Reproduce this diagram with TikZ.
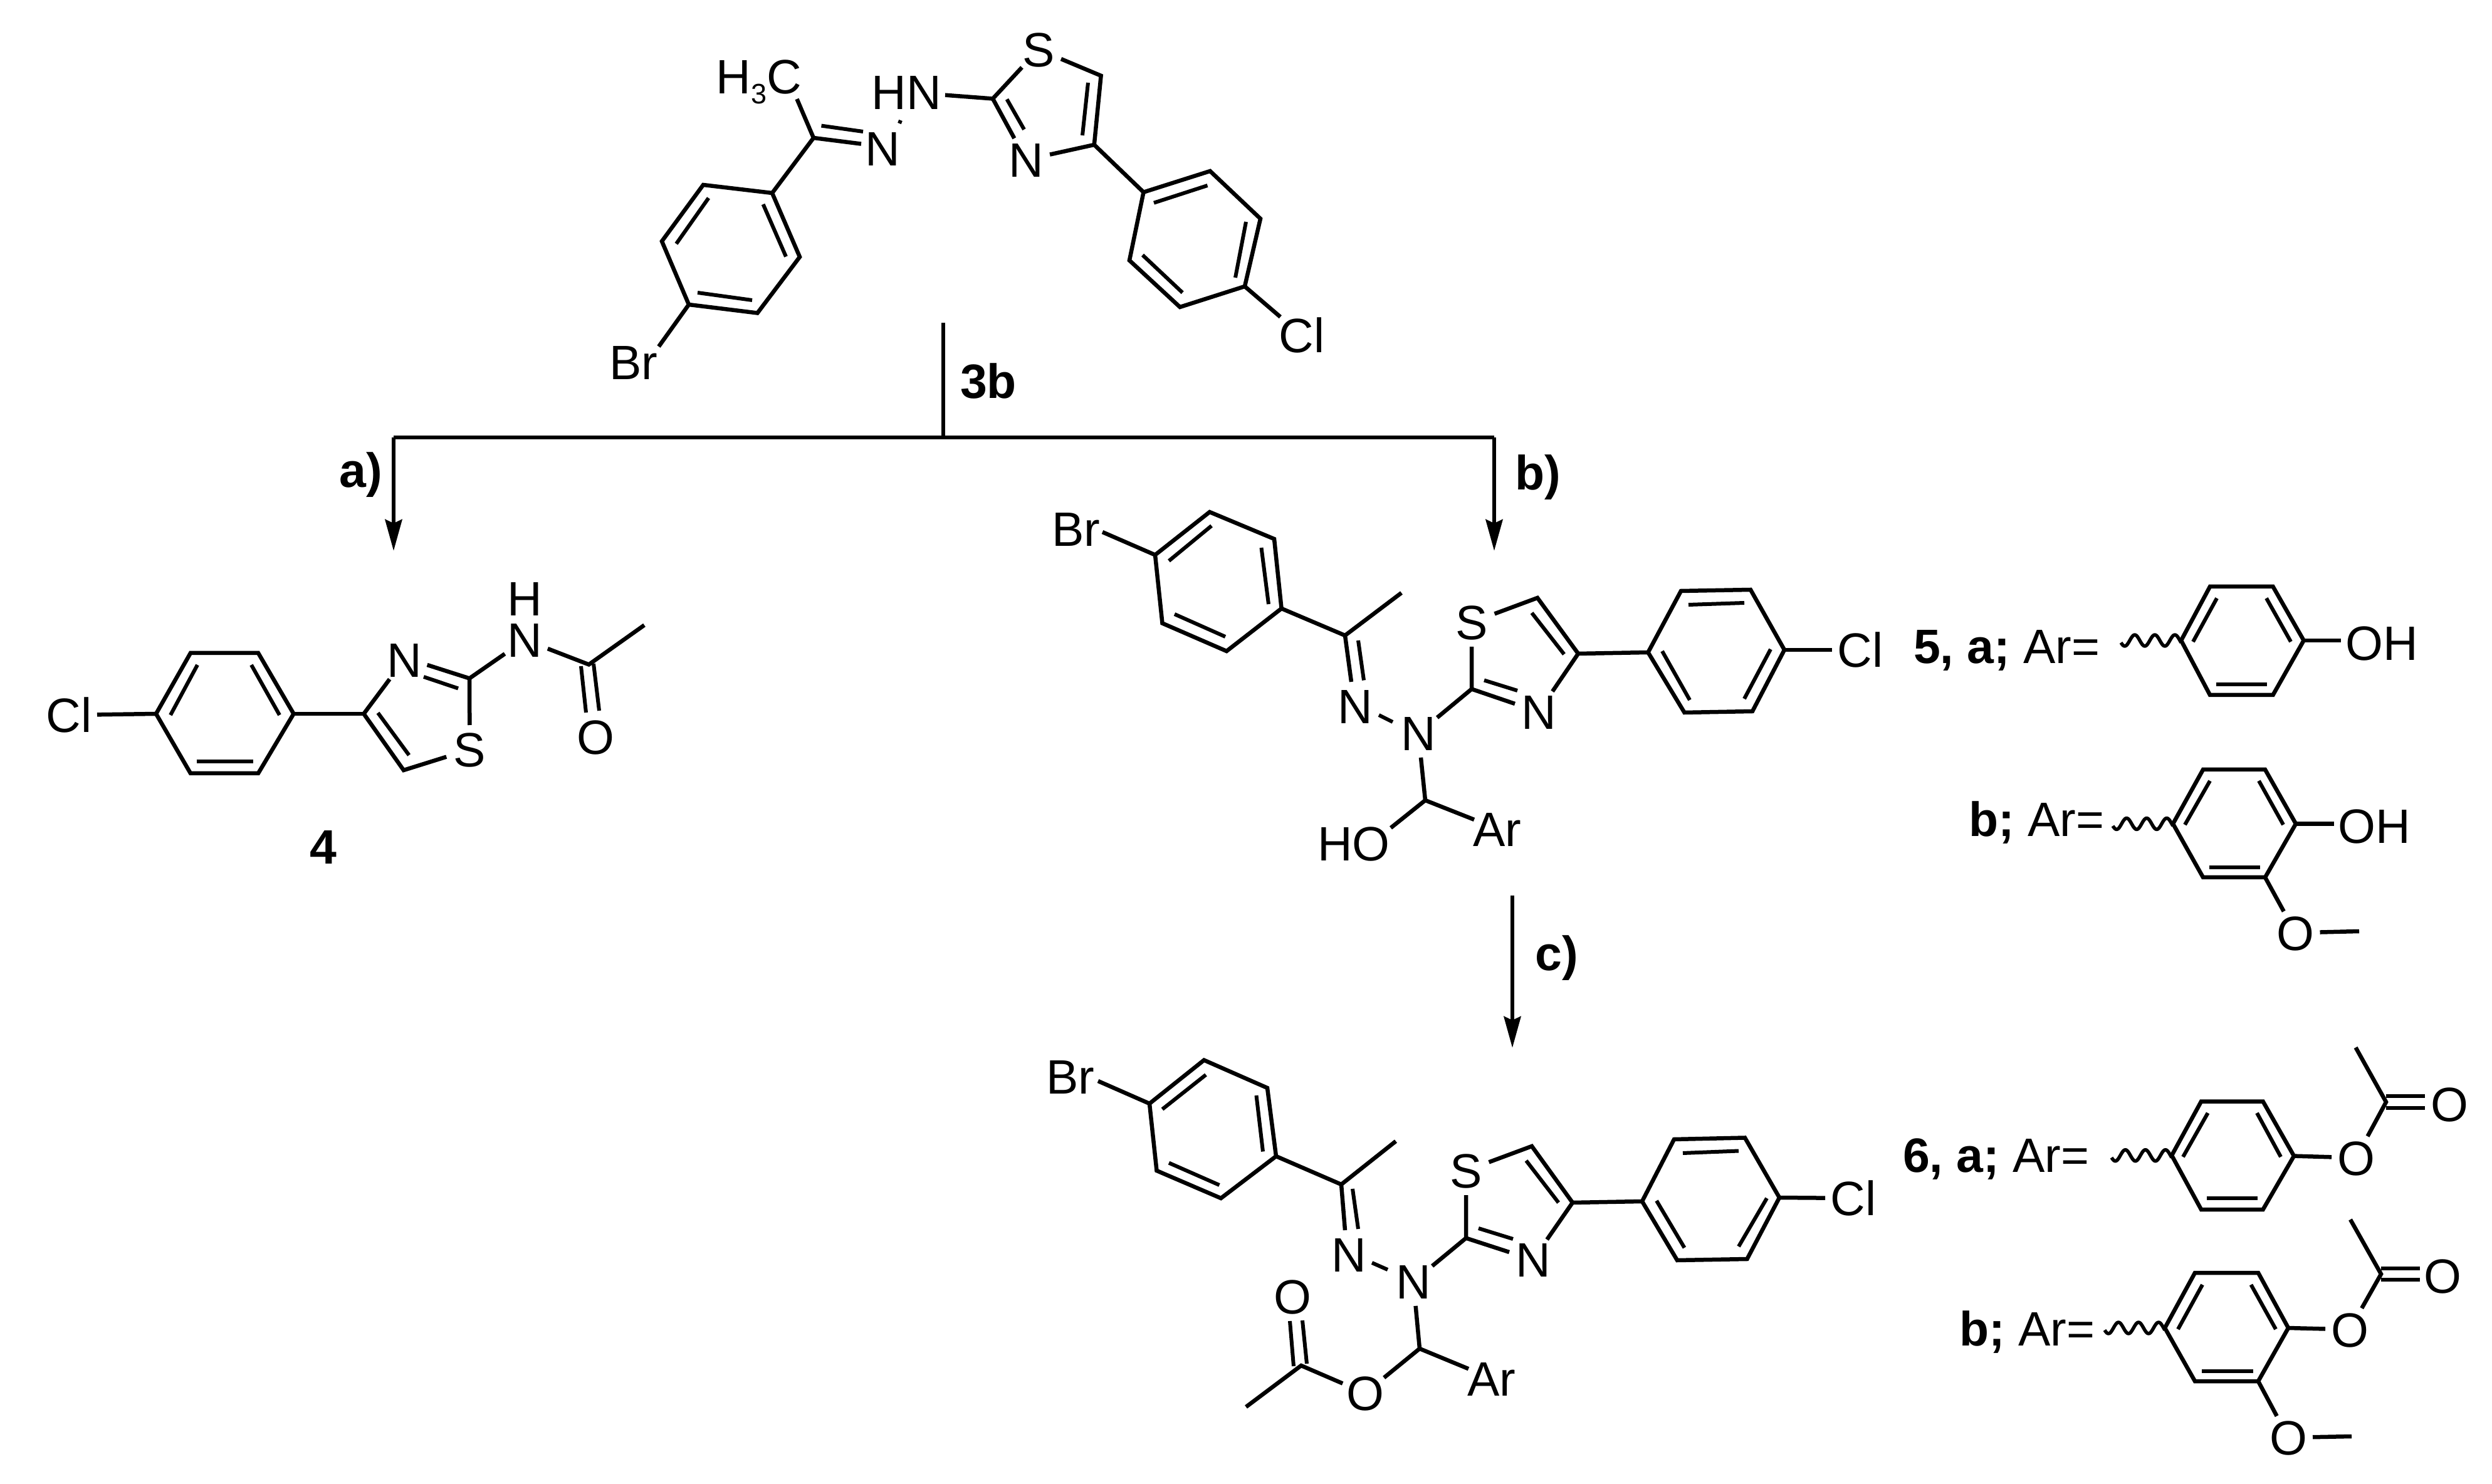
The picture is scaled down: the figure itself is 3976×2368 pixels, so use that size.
\documentclass[tikz,border=0pt]{standalone}
\usepackage{fontspec}
\setmainfont{Liberation Sans}
\usetikzlibrary{arrows.meta}
\newcommand\atlab[1]{\makebox[0pt][c]{\smash{\raisebox{-0.358em}{#1}}}}
\newcommand\wavy[2]{\draw[wavebond] plot[domain=0:96,samples=60,smooth] ({#1+\x},{#2+9*cos(11.25*(\x-6))});}
\tikzset{
  every node/.style={font=\fontsize{15.4}{18}\selectfont,text=black},
  bond/.style={line width=1.3pt,line join=miter,line cap=butt},
  inner/.style={line width=1.2pt,line cap=butt},
  wavebond/.style={line width=1.1pt,line join=round},
  rxn/.style={line width=1.2pt},
  arr/.style={line width=1.2pt,-{Stealth[length=10pt,width=5.4pt,inset=1.2pt]}},
  atom/.style={circle,inner sep=0pt,minimum size=15.2pt},
  atomL/.style={circle,inner sep=0pt,minimum size=17.6pt},
  grp/.style={rectangle,inner sep=0pt,minimum height=15pt},
  txt/.style={inner sep=0pt,anchor=base},
  txtw/.style={inner sep=0pt,anchor=base west},
}
\begin{document}
\begin{tikzpicture}[x=0.2pt,y=-0.2pt]
\useasboundingbox (0,0) rectangle (3976,2368);

% ---------- reaction lines
\coordinate (top) at (1505,515);
\coordinate (jn) at (1505,698);
\coordinate (la) at (628,698);
\coordinate (ra) at (2384,698);
\coordinate (ta) at (628,879);
\coordinate (tb) at (2384,879);
\coordinate (cs) at (2413,1429);
\coordinate (tc) at (2413,1672);
\draw[rxn] (top) -- (jn);
\draw[rxn] (la) -- (ra);
\draw[arr] (la) -- (ta);
\draw[arr] (ra) -- (tb);
\draw[arr] (cs) -- (tc);
\node[txt] (l3b) at (1577,636) {\textbf{3b}};
\node[txt] (lA) at (576,778) {\textbf{a)}};
\node[txt] (lB) at (2454,782) {\textbf{b)}};
\node[txt] (lC) at (2483.5,1549) {\textbf{c)}};
\node[txt] (l4) at (516,1379) {\textbf{4}};

% ---------- compound 3b
\node[grp,minimum width=27pt] (m1Me) at (1211,122) {\atlab{H\raisebox{-3.2pt}{\fontsize{9}{10}\selectfont 3}C}};
\node[atom] (m1N) at (1408,236.5) {\atlab{N}};
\node[grp,minimum width=24.4pt] (m1HN) at (1446,147) {\atlab{HN}};
\node[atom] (m1S) at (1657,79) {\atlab{S}};
\node[atom] (m1N3) at (1637,255) {\atlab{N}};
\node[atomL] (m1Cl) at (2077,535) {\atlab{Cl}};
\node[atomL] (m1Br) at (1011,578) {\atlab{Br}};
\draw[bond] (1232,308) coordinate (a1) -- (1122,295) coordinate (a2) -- (1056,385) coordinate (a3) -- (1099,486) coordinate (a4) -- (1208.5,499.5) coordinate (a5) -- (1276,410) coordinate (a6) -- cycle;
\draw[inner] (1217.6,326) -- (1254,409.5);
\draw[inner] (1130.5,316) -- (1079,389);
\draw[inner] (1113,467) -- (1200,479);
\coordinate (m1C) at (1298,220);
\draw[bond] (a1) -- (m1C);
\draw[bond] (m1C) -- (1271.5,158);
\draw[bond] (m1C) -- (1374,229.6);
\draw[inner] (1310.5,200.6) -- (1377,210);
\draw[inner] (1437,192) -- (1435,197);
\coordinate (m1C2) at (1584,157.5);
\coordinate (m1C5) at (1756.6,120.8);
\coordinate (m1C4) at (1745.8,231);
\draw[bond] (m1HN) -- (m1C2);
\draw[bond] (m1C2) -- (m1S);
\draw[bond] (m1S) -- (m1C5) -- (m1C4) -- (m1N3) -- (m1C2);
\draw[inner] (1606.5,158.4) -- (1634,206.6);
\draw[inner] (1736,132) -- (1727,216);
\draw[bond] (1824.5,306.7) coordinate (b1) -- (1930.7,273) coordinate (b2) -- (2011,349) coordinate (b3) -- (1986,457) coordinate (b4) -- (1882.6,490) coordinate (b5) -- (1802,415.5) coordinate (b6) -- cycle;
\draw[inner] (1841,323.7) -- (1926.5,296);
\draw[inner] (1988,354) -- (1971,443);
\draw[inner] (1886.7,467) -- (1823,407);
\draw[bond] (m1C4) -- (b1);
\draw[bond] (b4) -- (m1Cl);
\draw[bond] (a4) -- (1051,553);

% ---------- compound 4
\node[atomL] (m4Cl) at (110,1141) {\atlab{Cl}};
\node[atom] (m4N3) at (645,1052.5) {\atlab{N}};
\node[atom] (m4S) at (749.5,1196) {\atlab{S}};
\node[atom] (m4N) at (837.5,1021) {\atlab{N}};
\node[atom] (m4H) at (837.5,955) {\atlab{H}};
\node[atom] (m4O) at (950,1176) {\atlab{O}};
\draw[bond] (249,1139) coordinate (c1) -- (304,1042) coordinate (c2) -- (412,1042) coordinate (c3) -- (468.5,1139) coordinate (c4) -- (412,1234) coordinate (c5) -- (304,1234) coordinate (c6) -- cycle;
\draw[inner] (315,1061) -- (272,1141);
\draw[inner] (401,1061) -- (446,1141);
\draw[inner] (313.5,1215) -- (404,1215);
\draw[bond] (m4Cl) -- (c1);
\coordinate (m4C4) at (580.4,1139);
\coordinate (m4C5) at (644,1229);
\coordinate (m4C2) at (749,1082.5);
\coordinate (m4CO) at (939.5,1060.4);
\coordinate (m4Me) at (1028,997.5);
\draw[bond] (c4) -- (m4C4);
\draw[bond] (m4N3) -- (m4C4) -- (m4C5) -- (m4S);
\draw[inner] (603,1137.5) -- (652.6,1205);
\draw[bond] (m4S) -- (m4C2) -- (m4N);
\draw[bond] (m4C2) -- (681.6,1061);
\draw[inner] (676,1080) -- (731,1098.5);
\draw[bond] (m4N) -- (m4CO) -- (m4Me);
\draw[inner] (927,1063) -- (935,1137);
\draw[inner] (947,1059) -- (956,1134);

% ---------- compound 5
\node[atomL] (m5Br) at (1717,844) {\atlab{Br}};
\node[atom] (m5N1) at (2162,1127) {\atlab{N}};
\node[atom] (m5N2) at (2263,1170) {\atlab{N}};
\node[atom] (m5S) at (2348,993) {\atlab{S}};
\node[atom] (m5N3) at (2455,1135.5) {\atlab{N}};
\node[atomL] (m5Cl) at (2968,1037) {\atlab{Cl}};
\node[grp,minimum width=21.6pt] (m5HO) at (2160,1346) {\atlab{HO}};
\node[grp,minimum width=14.4pt] (m5Ar) at (2389,1322.5) {\atlab{Ar}};
\draw[bond] (1843,885.5) coordinate (d1) -- (1930,817) coordinate (d2) -- (2033,860) coordinate (d3) -- (2044.6,971) coordinate (d4) -- (1957,1039) coordinate (d5) -- (1854.5,994.5) coordinate (d6) -- cycle;
\draw[inner] (1865,895) -- (1933,839);
\draw[inner] (2012.5,874) -- (2024,964);
\draw[inner] (1955,1016) -- (1874,980);
\draw[bond] (d1) -- (1759,849);
\coordinate (m5C) at (2146,1014);
\coordinate (m5Me) at (2236,946);
\draw[bond] (d4) -- (m5C) -- (m5Me);
\draw[bond] (m5C) -- (2156,1088);
\draw[inner] (2167,1022) -- (2176,1085.5);
\draw[inner] (2200,1141) -- (2222,1152);
\coordinate (m5C2) at (2348,1099.5);
\coordinate (m5C5) at (2453,954);
\coordinate (m5C4) at (2518,1043);
\draw[bond] (m5N2) -- (m5C2) -- (m5S);
\draw[bond] (m5S) -- (m5C5) -- (m5C4) -- (m5N3);
\draw[bond] (m5C2) -- (2417,1123);
\draw[inner] (2368,1085.5) -- (2421,1102);
\draw[inner] (2444,978) -- (2495.5,1044);
\draw[bond] (2629.5,1041) coordinate (e1) -- (2682,943) coordinate (e2) -- (2793,941) coordinate (e3) -- (2847,1037) coordinate (e4) -- (2796,1135) coordinate (e5) -- (2687.5,1137) coordinate (e6) -- cycle;
\draw[inner] (2694,965) -- (2783,962);
\draw[inner] (2825,1036) -- (2783,1115);
\draw[inner] (2696,1117) -- (2652,1039);
\draw[bond] (m5C4) -- (e1);
\draw[bond] (e4) -- (m5Cl);
\coordinate (m5CH) at (2274,1277);
\draw[bond] (m5N2) -- (m5CH) -- (m5Ar);
\draw[bond] (m5CH) -- (2219,1321);

% ---------- compound 6
\node[atomL] (m6Br) at (1708,1718) {\atlab{Br}};
\node[atom] (m6N1) at (2152,2002) {\atlab{N}};
\node[atom] (m6N2) at (2255,2045) {\atlab{N}};
\node[atom] (m6S) at (2339,1868) {\atlab{S}};
\node[atom] (m6N3) at (2446,2010) {\atlab{N}};
\node[atomL] (m6Cl) at (2957,1912) {\atlab{Cl}};
\node[grp,minimum width=14.4pt] (m6Ar) at (2380,2199.5) {\atlab{Ar}};
\node[atom] (m6O) at (2178,2223) {\atlab{O}};
\node[atom] (m6O2) at (2062,2068.5) {\atlab{O}};
\draw[bond] (1834,1761) coordinate (f1) -- (1921,1691.6) coordinate (f2) -- (2022,1736) coordinate (f3) -- (2036,1845) coordinate (f4) -- (1948,1912) coordinate (f5) -- (1845.5,1868) coordinate (f6) -- cycle;
\draw[inner] (1854.5,1770) -- (1924,1715);
\draw[inner] (2004.5,1748) -- (2015,1837.5);
\draw[inner] (1945.5,1891) -- (1865,1855.6);
\draw[bond] (f1) -- (1752,1725);
\coordinate (m6C) at (2140,1890);
\coordinate (m6Me) at (2227,1821);
\draw[bond] (f4) -- (m6C) -- (m6Me);
\draw[bond] (m6C) -- (2146,1963);
\draw[inner] (2158,1897) -- (2167,1961);
\draw[inner] (2189,2015) -- (2214,2026);
\coordinate (m6C2) at (2339,1975.6);
\coordinate (m6C5) at (2444,1829);
\coordinate (m6C4) at (2509,1919);
\draw[bond] (m6N2) -- (m6C2) -- (m6S);
\draw[bond] (m6S) -- (m6C5) -- (m6C4) -- (m6N3);
\draw[bond] (m6C2) -- (2408,1998);
\draw[inner] (2359,1960) -- (2414,1977);
\draw[inner] (2435,1852) -- (2486.6,1919);
\draw[bond] (2620,1917) coordinate (g1) -- (2671,1818) coordinate (g2) -- (2784,1815.5) coordinate (g3) -- (2839,1911) coordinate (g4) -- (2787.5,2009) coordinate (g5) -- (2676,2011) coordinate (g6) -- cycle;
\draw[inner] (2685,1840) -- (2774,1836.5);
\draw[inner] (2819,1912) -- (2774,1989);
\draw[inner] (2687.5,1991) -- (2643,1916);
\draw[bond] (m6C4) -- (g1);
\draw[bond] (g4) -- (m6Cl);
\coordinate (m6CH) at (2265,2152);
\coordinate (m6CO) at (2076,2179);
\coordinate (m6Me2) at (1988,2245);
\draw[bond] (m6N2) -- (m6CH) -- (m6Ar);
\draw[bond] (m6CH) -- (m6O) -- (m6CO) -- (m6Me2);
\draw[inner] (2064,2180) -- (2058,2108);
\draw[inner] (2085,2176) -- (2078,2107);

% ---------- 5a
\node[txtw] (t5a) at (3052,1059) {\textbf{5, a;} Ar=};
\node[grp,minimum width=21.8pt] (s5aOH) at (3800,1025.5) {\atlab{OH}};
\draw[bond] (3480,1022) coordinate (h1) -- (3526,936) coordinate (h2) -- (3626.5,936) coordinate (h3) -- (3675.6,1022) coordinate (h4) -- (3626.5,1109) coordinate (h5) -- (3526,1109) coordinate (h6) -- cycle;
\draw[inner] (3537,954.6) -- (3499,1024);
\draw[inner] (3616,954.6) -- (3655,1024);
\draw[inner] (3536,1092) -- (3617,1092);
\draw[bond] (h4) -- (3735,1022);
\wavy{3384}{1022}

% ---------- 5b
\node[txtw] (t5b) at (3140,1334.5) {\textbf{b;} Ar=};
\node[grp,minimum width=21.6pt] (s5bOH) at (3788.5,1318) {\atlab{OH}};
\node[atom] (s5bO) at (3662.5,1488.5) {\atlab{O}};
\draw[bond] (3467,1314.5) coordinate (i1) -- (3515,1228) coordinate (i2) -- (3614,1228) coordinate (i3) -- (3663,1314.5) coordinate (i4) -- (3614,1400) coordinate (i5) -- (3515,1400) coordinate (i6) -- cycle;
\draw[inner] (3526,1246) -- (3486,1316);
\draw[inner] (3604,1246) -- (3643,1316);
\draw[inner] (3524.5,1384) -- (3606,1384);
\draw[bond] (i4) -- (3723.5,1314.5);
\draw[bond] (i5) -- (s5bO);
\coordinate (s5bMe) at (3764,1486);
\draw[bond] (s5bO) -- (s5bMe);
\wavy{3371}{1314.5}

% ---------- 6a
\node[txtw] (t6a) at (3035,1870.7) {\textbf{6, a;} Ar=};
\node[atom] (s6aO) at (3759,1847.5) {\atlab{O}};
\node[atom] (s6aO2) at (3908,1762) {\atlab{O}};
\draw[bond] (3465,1843.7) coordinate (j1) -- (3512,1757.6) coordinate (j2) -- (3610.6,1757.6) coordinate (j3) -- (3660,1844.6) coordinate (j4) -- (3610.6,1930) coordinate (j5) -- (3512,1930) coordinate (j6) -- cycle;
\draw[inner] (3522.6,1776) -- (3483,1846);
\draw[inner] (3601,1776) -- (3639,1846);
\draw[inner] (3521,1912) -- (3602,1912);
\coordinate (s6aC) at (3807,1758.5);
\coordinate (s6aMe) at (3758.5,1671.5);
\draw[bond] (j4) -- (s6aO) -- (s6aC) -- (s6aMe);
\draw[inner] (3807,1768) -- (3869,1768);
\draw[inner] (3807,1749) -- (3869,1749);
\wavy{3369}{1843.7}

% ---------- 6b
\node[txtw] (t6b) at (3125,2147) {\textbf{b;} Ar=};
\node[atom] (s6bO) at (3749,2121.5) {\atlab{O}};
\node[atom] (s6bO2) at (3897.5,2036) {\atlab{O}};
\node[atom] (s6bO3) at (3651,2294) {\atlab{O}};
\draw[bond] (3454,2119) coordinate (k1) -- (3502,2031) coordinate (k2) -- (3603,2031) coordinate (k3) -- (3651,2119) coordinate (k4) -- (3603,2204) coordinate (k5) -- (3502,2204) coordinate (k6) -- cycle;
\draw[inner] (3514,2050) -- (3475,2121);
\draw[inner] (3591.5,2050) -- (3631,2121);
\draw[inner] (3513,2188) -- (3595,2188);
\coordinate (s6bC) at (3799,2033);
\coordinate (s6bMe) at (3750,1946);
\draw[bond] (k4) -- (s6bO) -- (s6bC) -- (s6bMe);
\draw[inner] (3799,2024) -- (3860.6,2024);
\draw[inner] (3799,2042) -- (3860.6,2042);
\draw[bond] (k5) -- (s6bO3);
\coordinate (s6bMe2) at (3752,2292);
\draw[bond] (s6bO3) -- (s6bMe2);
\wavy{3358}{2119}
\end{tikzpicture}
\end{document}
